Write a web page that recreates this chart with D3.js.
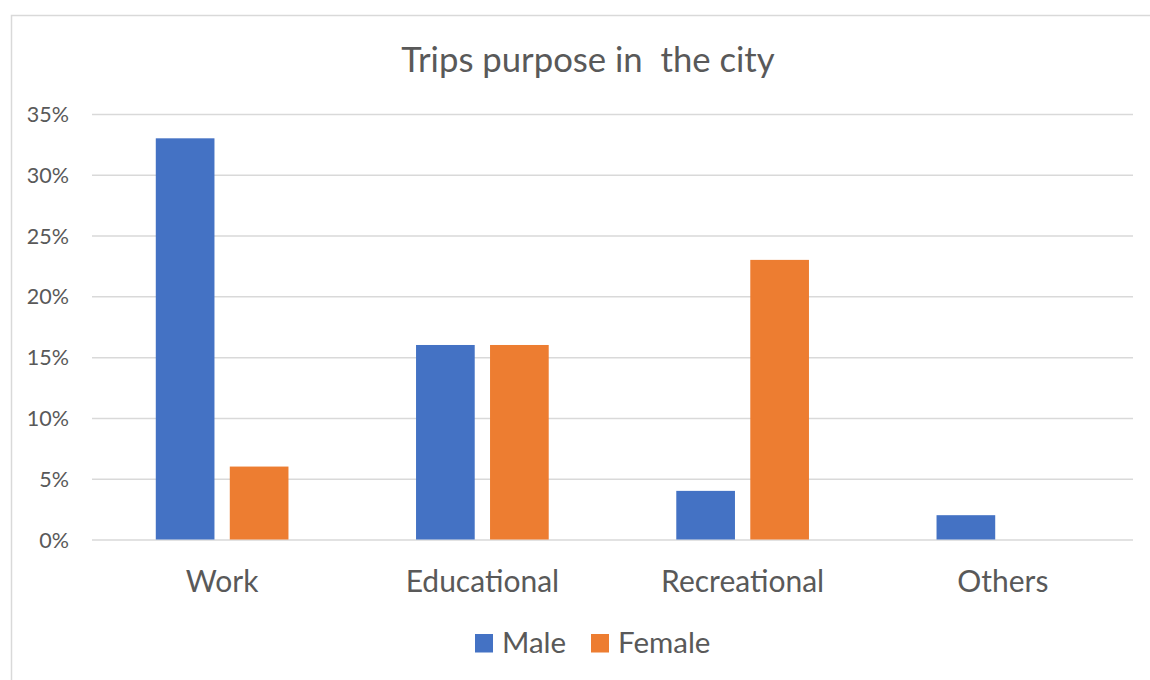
<!DOCTYPE html>
<html>
<head>
<meta charset="utf-8">
<script src="https://cdn.jsdelivr.net/npm/d3@7"></script>
<style>
  html, body { margin: 0; padding: 0; background: #fff; }
  svg { display: block; }
  text { font-family: Lato, "Open Sans", sans-serif; fill: #595959; }
</style>
</head>
<body>
<svg id="chart" width="1150" height="680"></svg>
<script>
// Trip purpose shares by gender
const categories = ["Work", "Educational", "Recreational", "Others"];
const seriesNames = ["Male", "Female"];
const maleValues = [0.33, 0.16, 0.04, 0.02];
const femaleValues = [0.06, 0.16, 0.23, 0.00];
const yTicks = [0, 0.05, 0.10, 0.15, 0.20, 0.25, 0.30, 0.35];
const colors = ["#4472C4", "#ED7D31"];
const titleText = "Trips purpose in  the city";

const rows = categories.map((c, i) => ({
  category: c,
  values: [
    { series: seriesNames[0], value: maleValues[i] },
    { series: seriesNames[1], value: femaleValues[i] }
  ]
}));

const svg = d3.select("#chart");

// chart frame
svg.append("rect")
  .attr("x", 11.5).attr("y", 15.5)
  .attr("width", 1160).attr("height", 700)
  .attr("fill", "#fff")
  .attr("stroke", "#d9d9d9").attr("stroke-width", 1.5);

const plot = { left: 92, right: 1133, top: 114, bottom: 539.5 };

const x0 = d3.scaleBand()
  .domain(categories)
  .range([plot.left, plot.right])
  .paddingInner(0).paddingOuter(0);

const x1 = d3.scaleBand()
  .domain(seriesNames)
  .range([0, x0.bandwidth()])
  .paddingInner(0.207)
  .paddingOuter(0.862);

const y = d3.scaleLinear()
  .domain([0, 0.35])
  .range([plot.bottom, plot.top]);

// gridlines and percentage labels
const yAxis = d3.axisLeft(y)
  .tickValues(yTicks)
  .tickFormat(d3.format(".0%"))
  .tickSize(-(plot.right - plot.left))
  .tickPadding(23);

const gy = svg.append("g")
  .attr("transform", `translate(${plot.left},0)`)
  .call(yAxis);
gy.select(".domain").remove();
gy.selectAll(".tick line")
  .attr("stroke", "#d9d9d9").attr("stroke-width", 1.5);
gy.selectAll(".tick text")
  .attr("fill", "#595959")
  .style("font-size", "21.5px")
  .attr("dy", "0.35em");

// bars
const groups = svg.append("g")
  .selectAll("g")
  .data(rows)
  .join("g")
  .attr("transform", d => `translate(${x0(d.category)},0)`);

groups.selectAll("rect")
  .data(d => d.values)
  .join("rect")
  .attr("x", d => x1(d.series))
  .attr("y", d => y(d.value))
  .attr("width", x1.bandwidth())
  .attr("height", d => y(0) - y(d.value))
  .attr("fill", (d, i) => colors[i]);

// category labels
const xAxis = d3.axisBottom(x0).tickSize(0).tickPadding(31);
const gx = svg.append("g")
  .attr("transform", `translate(0,${plot.bottom})`)
  .call(xAxis);
gx.select(".domain").remove();
gx.selectAll(".tick text")
  .attr("fill", "#595959")
  .style("font-size", "30px");

// title
svg.append("text")
  .attr("x", 588).attr("y", 72)
  .attr("text-anchor", "middle")
  .style("font-size", "34.7px")
  .attr("xml:space", "preserve")
  .text(titleText);

// legend
const legend = svg.append("g").attr("transform", "translate(475,634)");
const legendX = [0, 116];
seriesNames.forEach((name, i) => {
  const g = legend.append("g").attr("transform", `translate(${legendX[i]},0)`);
  g.append("rect")
    .attr("width", 18).attr("height", 18.5)
    .attr("fill", colors[i]);
  g.append("text")
    .attr("x", 27).attr("y", 19)
    .style("font-size", "29.5px")
    .text(name);
});
</script>
</body>
</html>
